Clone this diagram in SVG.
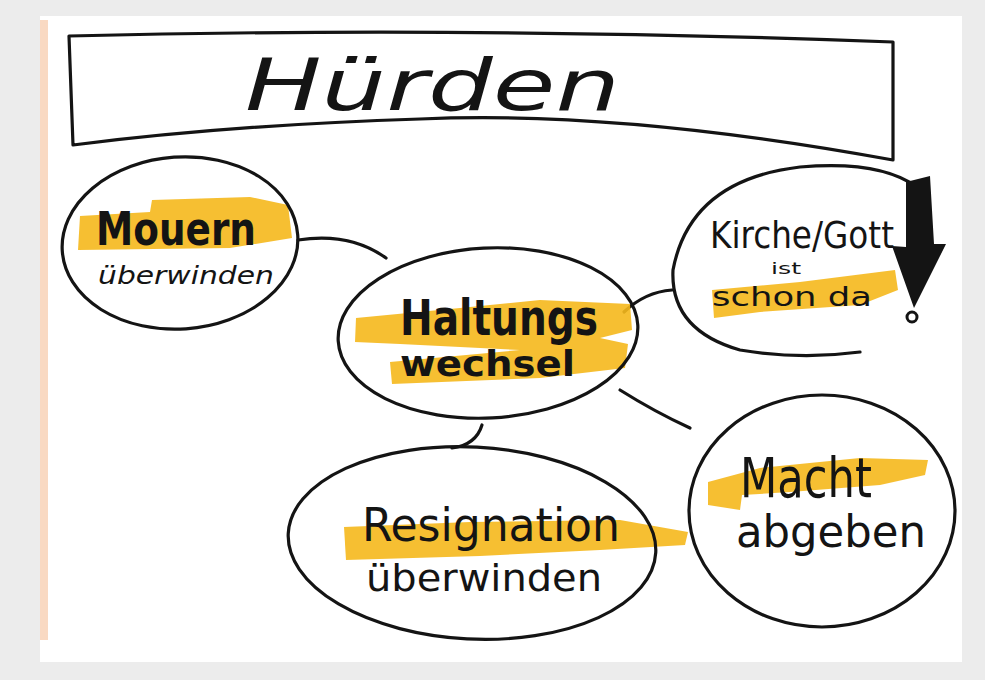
<svg xmlns="http://www.w3.org/2000/svg" width="985" height="680" viewBox="0 0 985 680">
<style>
.ink{fill:none;stroke:#141414;stroke-width:3.2;stroke-linecap:round;stroke-linejoin:round}
.hl{fill:#f5b81c;opacity:0.9}
.t{font-family:"DejaVu Sans Condensed","DejaVu Sans","Liberation Sans",sans-serif;fill:#141414}
.b{font-weight:bold}
.th{font-weight:normal}
</style>
<rect x="0" y="0" width="985" height="680" fill="#ececec"/>
<rect x="40" y="16" width="922" height="646" fill="#ffffff"/>
<rect x="40" y="20" width="8" height="620" fill="#f6c9a8" opacity="0.7"/>

<g id="title">
<path class="ink" d="M69 36 Q470 26 893 42 L893 160 Q620 110 420 119 Q230 125 73 145 Z"/>
<text class="t th" x="245" y="110" font-size="72" font-style="italic" textLength="375" lengthAdjust="spacingAndGlyphs">Hürden</text>
</g>

<g id="connectors">
<path class="ink" d="M298 240 Q350 232 386 258"/>
<path class="ink" d="M624 312 Q645 292 672 290"/>
<path class="ink" d="M620 390 Q655 412 690 428"/>
<path class="ink" d="M482 425 Q476 445 452 448"/>
</g>

<g id="mauern">
<path class="hl" d="M80 216 L150 212 L152 200 L250 197 L288 205 L292 238 L230 248 L78 250 Z"/>
<ellipse class="ink" cx="180" cy="243" rx="118" ry="86" transform="rotate(-4 180 243)"/>
<text class="t b" x="96" y="245" font-size="46" textLength="160" lengthAdjust="spacingAndGlyphs">Mouern</text>
<text class="t th" x="98" y="284" font-size="25" font-style="italic" textLength="176" lengthAdjust="spacingAndGlyphs">überwinden</text>
</g>

<g id="haltung">
<path class="hl" d="M356 318 L460 308 L540 300 L630 304 L632 330 L600 338 L628 344 L625 368 L540 378 L392 384 L390 362 L520 350 L400 344 L355 342 Z"/>
<ellipse class="ink" cx="488" cy="333" rx="150" ry="85" transform="rotate(-3 488 333)"/>
<text class="t b" x="400" y="335" font-size="50" textLength="198" lengthAdjust="spacingAndGlyphs">Haltungs</text>
<text class="t b" x="400" y="376" font-size="36" textLength="175" lengthAdjust="spacingAndGlyphs">wechsel</text>
</g>

<g id="kirche">
<path class="hl" d="M712 290 L800 282 L895 270 L898 290 L860 305 L760 312 L714 318 Z"/>
<path class="ink" d="M917 187 Q880 160 800 167 Q690 180 673 270 Q670 330 740 350 Q800 360 860 352"/>
<text class="t th" x="710" y="248" font-size="38" textLength="184" lengthAdjust="spacingAndGlyphs">Kirche/Gott</text>
<text class="t th" x="771" y="274" font-size="16" textLength="30" lengthAdjust="spacingAndGlyphs">ist</text>
<text class="t th" x="712" y="306" font-size="26" textLength="160" lengthAdjust="spacingAndGlyphs">schon  da</text>
<path d="M906 182 L930 176 L934 244 L946 244 L914 308 L892 246 L906 247 Z" fill="#141414"/>
<circle cx="912" cy="317" r="5" fill="none" stroke="#141414" stroke-width="3"/>
</g>

<g id="resignation">
<path class="hl" d="M344 527 L470 522 L620 520 L688 532 L685 545 L600 550 L480 556 L346 560 Z"/>
<ellipse class="ink" cx="472" cy="543" rx="184" ry="96" transform="rotate(3 472 543)"/>
<text class="t th" x="362" y="541" font-size="46" textLength="258" lengthAdjust="spacingAndGlyphs">Resignation</text>
<text class="t th" x="366" y="591" font-size="38" textLength="236" lengthAdjust="spacingAndGlyphs">überwinden</text>
</g>

<g id="macht">
<path class="hl" d="M708 482 L760 468 L860 458 L928 460 L925 475 L880 485 L790 492 L742 495 L740 510 L708 505 Z"/>
<ellipse class="ink" cx="822" cy="511" rx="133" ry="116"/>
<text class="t th" x="740" y="497" font-size="56" textLength="132" lengthAdjust="spacingAndGlyphs">Macht</text>
<text class="t th" x="736" y="547" font-size="44" textLength="190" lengthAdjust="spacingAndGlyphs">abgeben</text>
</g>
</svg>
